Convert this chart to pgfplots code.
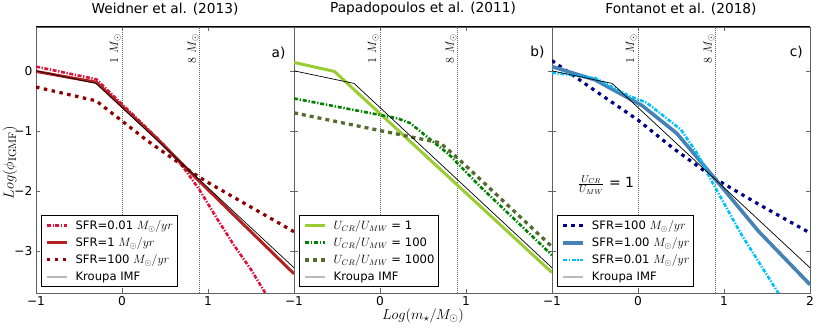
\documentclass[border=0pt]{standalone}
\usepackage[no-math]{fontspec}
\setmainfont{DejaVu Sans}
\usepackage{pgfplots}
\pgfplotsset{compat=1.18}

\definecolor{crimson}{HTML}{DC143C}
\definecolor{firebrick}{HTML}{B22222}
\definecolor{darkred}{HTML}{8B0000}
\definecolor{yellowgreen}{HTML}{9ACD32}
\definecolor{mplgreen}{HTML}{008000}
\definecolor{darkolive}{HTML}{556B2F}
\definecolor{navy}{HTML}{000080}
\definecolor{steelblue}{HTML}{4682B4}
\definecolor{deepsky}{HTML}{00BFFF}

\pgfplotsset{
 panel/.style={
  scale only axis, width=258pt, height=266pt,
  xmin=-1, xmax=2, ymin=-3.7, ymax=0.73,
  xtick={-1,0,1,2}, ytick={-3,-2,-1,0},
  tick align=inside, major tick length=4pt,
  tick style={gray!80!black, line width=0.6pt},
  axis line style={gray!75!black, line width=0.9pt},
  ticklabel style={font=\fontsize{12.2}{14}\selectfont},
  title style={font=\fontsize{13.7}{16}\selectfont, yshift=2pt},
  legend cell align=left,
  legend style={at={(0.02,0.023)}, anchor=south west, draw=black,
     font=\fontsize{11.6}{14}\selectfont, row sep=2.6pt, inner xsep=2pt, inner ysep=3pt},
  legend image code/.code={\path (-2pt,0pt) (25pt,0pt); \draw[##1] (0pt,0pt) -- (20pt,0pt);},
 },
 kroupa/.style={black, line width=0.7pt},
 vline/.style={gray!80!black, line width=0.5pt, dash pattern=on 0.8pt off 1.2pt},
}
\newcommand{\vlines}{%
  \addplot[vline, forget plot] coordinates {(0,-3.7) (0,0.73)};
  \addplot[vline, forget plot] coordinates {(0.903,-3.7) (0.903,0.73)};
  \node[rotate=90, anchor=south east, inner sep=1pt, font=\fontsize{12.2}{14}\selectfont] at (axis cs:0,0.63) {$1\ M_{\odot}$};
  \node[rotate=90, anchor=south east, inner sep=1pt, font=\fontsize{12.2}{14}\selectfont] at (axis cs:0.903,0.63) {$8\ M_{\odot}$};
  \draw[black, line width=1pt] (rel axis cs:0,1) -- (rel axis cs:1,1);
}

\begin{document}
\begin{tikzpicture}
% ---------------- panel a
\begin{axis}[panel, at={(0pt,0pt)}, anchor=south west,
  title={Weidner et al. (2013)},
  xticklabels={−1,0,1,},
  yticklabels={−3,−2,−1,0},
  ylabel={$Log(\phi_{\rm IGMF})$},
  ylabel style={at={(axis description cs:-0.072,0.49)}, anchor=south, inner sep=0pt, font=\fontsize{15.5}{17}\selectfont},
]
\vlines
\addplot[crimson, line width=2.6pt, dash pattern=on 4pt off 1.6pt on 1.3pt off 1.6pt] coordinates {
(-1,0.07) (-0.3,-0.14) (0.3,-0.97) (0.5,-1.25) (0.7,-1.58) (0.9,-1.98) (1.1,-2.45) (1.3,-2.9) (1.5,-3.31) (1.7,-3.78)};
\addlegendentry{SFR=0.01 $M_{\odot}/yr$}
\addplot[firebrick, line width=3pt] coordinates {
(-1,-0.01) (-0.3,-0.19) (0.4,-1.12) (0.9,-1.84) (1.5,-2.68) (2,-3.38)};
\addlegendentry{SFR=1 $M_{\odot}/yr$}
\addplot[darkred, line width=3.2pt, dash pattern=on 3.5pt off 4.5pt] coordinates {
(-1,-0.27) (-0.3,-0.5) (0.3,-1.17) (0.6,-1.47) (0.8,-1.68) (1.0,-1.86) (1.5,-2.27) (2,-2.68)};
\addlegendentry{SFR=100 $M_{\odot}/yr$}
\addplot[kroupa, forget plot] coordinates {(-1,0) (-0.301,-0.21) (2,-3.28)};
\addlegendimage{gray!55, line width=1.8pt}
\addlegendentry{Kroupa IMF}
\node[font=\fontsize{13.7}{16}\selectfont] at (axis cs:1.82,0.3) {a)};
\end{axis}
% ---------------- panel b
\begin{axis}[panel, at={(258pt,0pt)}, anchor=south west,
  title={Papadopoulos et al. (2011)},
  xticklabels={−1,0,1,},
  yticklabels={},
  xlabel={$Log(m_{\star}/M_{\odot})$},
  xlabel style={at={(axis description cs:0.5,-0.058)}, anchor=north, inner sep=0pt, font=\fontsize{15.5}{17}\selectfont},
]
\vlines
\addplot[yellowgreen, line width=3pt] coordinates {
(-1,0.14) (-0.53,-0.01) (2,-3.36)};
\addlegendentry{$U_{CR}/U_{MW}$ = 1}
\addplot[mplgreen, line width=2.6pt, dash pattern=on 4pt off 1.8pt on 1.3pt off 1.8pt] coordinates {
(-1,-0.46) (0.2,-0.79) (0.35,-0.87) (0.6,-1.16) (0.8,-1.39) (1.16,-1.92) (2,-3.07)};
\addlegendentry{$U_{CR}/U_{MW}$ = 100}
\addplot[darkolive, line width=3.3pt, dash pattern=on 4pt off 4pt] coordinates {
(-1,-0.7) (0.7,-1.2) (0.9,-1.45) (2,-2.93)};
\addlegendentry{$U_{CR}/U_{MW}$ = 1000}
\addplot[kroupa, forget plot] coordinates {(-1,0) (-0.301,-0.21) (2,-3.28)};
\addlegendimage{gray!55, line width=1.8pt}
\addlegendentry{Kroupa IMF}
\node[font=\fontsize{13.7}{16}\selectfont] at (axis cs:1.83,0.31) {b)};
\end{axis}
% ---------------- panel c
\begin{axis}[panel, at={(516pt,0pt)}, anchor=south west,
  title={Fontanot et al. (2018)},
  xticklabels={−1,0,1,2},
  yticklabels={},
]
\vlines
\addplot[navy, line width=3.2pt, dash pattern=on 3.5pt off 4.5pt] coordinates {
(-1,0.17) (-0.5,-0.33) (0,-0.82) (0.4,-1.28) (0.9,-1.8) (1.4,-2.22) (2,-2.7)};
\addlegendentry{SFR=100 $M_{\odot}/yr$}
\addplot[steelblue, line width=3.6pt] coordinates {
(-1,0.07) (-0.5,-0.15) (0.05,-0.58) (0.45,-1.04) (0.68,-1.43) (0.92,-1.84) (1.4,-2.67) (2,-3.56)};
\addlegendentry{SFR=1.00 $M_{\odot}/yr$}
\addplot[deepsky, line width=2.6pt, dash pattern=on 4pt off 1.6pt on 1.3pt off 1.6pt] coordinates {
(-1,-0.03) (-0.5,-0.12) (-0.1,-0.42) (0.1,-0.53) (0.5,-0.98) (0.7,-1.4) (0.85,-1.82) (1.2,-2.72) (1.64,-3.72)};
\addlegendentry{SFR=0.01 $M_{\odot}/yr$}
\addplot[kroupa, forget plot] coordinates {(-1,0) (-0.301,-0.21) (2,-3.28)};
\addlegendimage{gray!55, line width=1.8pt}
\addlegendentry{Kroupa IMF}
\node[font=\fontsize{13.7}{16}\selectfont] at (axis cs:1.84,0.31) {c)};
\node[anchor=west, font=\fontsize{14}{16}\selectfont] at (axis cs:-0.74,-1.9) {$\frac{U_{CR}}{U_{MW}}$ = 1};
\end{axis}
\pgfresetboundingbox
\path[use as bounding box] (-36pt,-38pt) rectangle (781pt,293pt);
\end{tikzpicture}
\end{document}
